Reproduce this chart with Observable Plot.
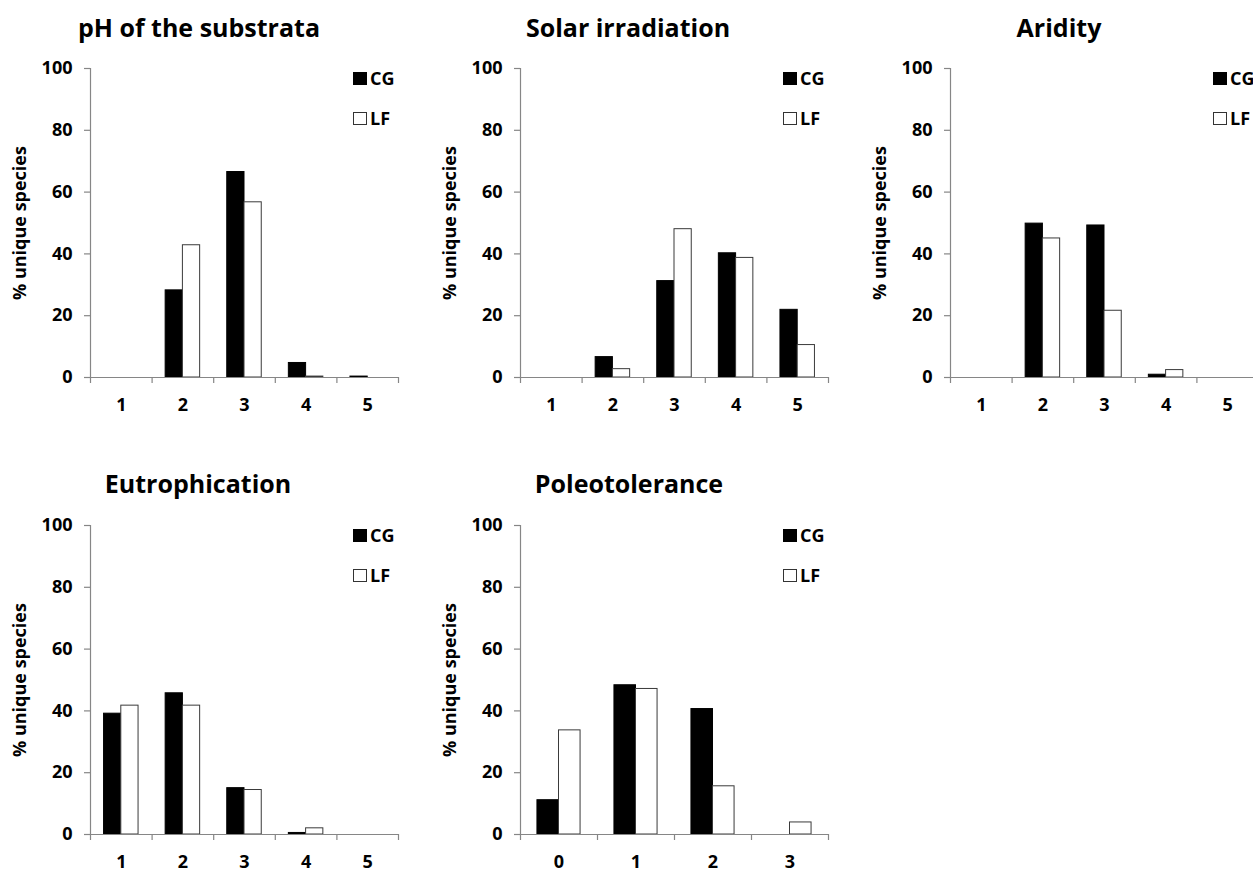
<!DOCTYPE html>
<html>
<head>
<meta charset="utf-8">
<script src="https://cdn.jsdelivr.net/npm/d3@7"></script>
<script src="https://cdn.jsdelivr.net/npm/@observablehq/plot@0.6"></script>
<style>
  html, body { margin: 0; padding: 0; background: #fff; overflow: hidden; }
  #root { position: relative; width: 1253px; height: 870px; overflow: hidden; background: #fff; font-family: "Open Sans", sans-serif; }
  .panel { position: absolute; width: 408px; }
  .panel svg { max-width: none !important; }
  .title { position: absolute; font-weight: bold; font-size: 25px; white-space: nowrap; transform: translate(-50%, -50%); color: #000; }
  .legend { position: absolute; font-weight: bold; font-size: 18px; color: #000; white-space: nowrap; }
  .legend .row { position: relative; height: 40px; display: flex; align-items: flex-start; }
  .legend .sw { width: 14px; height: 13px; box-sizing: border-box; border: 1px solid #333; margin-right: 3px; }
  .legend .lab { line-height: 13px; }
</style>
</head>
<body>
<div id="root"></div>
<script>
// ---- data ----
const seriesNames = ["CG", "LF"];
const yTicks = [0, 20, 40, 60, 80, 100];
const yLabel = "% unique species";

const phCats = [1, 2, 3, 4, 5];
const phCG = [0, 28.2, 66.5, 4.7, 0.3];
const phLF = [0, 42.8, 56.7, 0.3, 0];

const solarCats = [1, 2, 3, 4, 5];
const solarCG = [0, 6.6, 31.2, 40.2, 21.9];
const solarLF = [0, 2.7, 48.0, 38.7, 10.5];

const aridCats = [1, 2, 3, 4, 5];
const aridCG = [0, 49.8, 49.2, 0.9, 0];
const aridLF = [0, 45.0, 21.6, 2.4, 0];

const eutroCats = [1, 2, 3, 4, 5];
const eutroCG = [39.1, 45.7, 15.0, 0.5, 0];
const eutroLF = [41.7, 41.7, 14.4, 2.0, 0];

const poleoCats = [0, 1, 2, 3];
const poleoCG = [11.1, 48.3, 40.6, 0];
const poleoLF = [33.7, 47.1, 15.6, 3.9];

const panels = [
  {title: "pH of the substrata", cats: phCats, cg: phCG, lf: phLF, left: 0, top: 50, tx: 199, ty: 27},
  {title: "Solar irradiation", cats: solarCats, cg: solarCG, lf: solarLF, left: 430, top: 50, tx: 628, ty: 27},
  {title: "Aridity", cats: aridCats, cg: aridCG, lf: aridLF, left: 860, top: 50, tx: 1059, ty: 27},
  {title: "Eutrophication", cats: eutroCats, cg: eutroCG, lf: eutroLF, left: 0, top: 507, tx: 198, ty: 483},
  {title: "Poleotolerance", cats: poleoCats, cg: poleoCG, lf: poleoLF, left: 430, top: 507, tx: 629, ty: 483}
];

const root = document.getElementById("root");
const axisGray = "#868686";
const groupFrac = 0.56;
const M = {left: 90, right: 10, top: 18, bottom: 50};
const plotH = 309;

for (const p of panels) {
  const data = [];
  p.cats.forEach((c, i) => {
    data.push({cat: c, series: seriesNames[0], value: p.cg[i]});
    data.push({cat: c, series: seriesNames[1], value: p.lf[i]});
  });
  const lo = d3.min(p.cats) - 0.5, hi = d3.max(p.cats) + 0.5;
  const bounds = d3.range(lo, hi + 0.01, 1);
  const half = groupFrac / 2;

  const chart = Plot.plot({
    width: M.left + 308 + M.right,
    height: M.top + plotH + M.bottom,
    marginLeft: M.left, marginRight: M.right, marginTop: M.top, marginBottom: M.bottom,
    style: {fontFamily: "'Open Sans', sans-serif", fontSize: "18px", fontWeight: "bold", background: "transparent", overflow: "visible"},
    x: {domain: [lo, hi]},
    y: {domain: [0, 100]},
    marks: [
      Plot.rectY(data.filter(d => d.series === "CG" && d.value > 0), {
        x1: d => d.cat - half, x2: d => d.cat, y1: 0, y2: "value", fill: "#000", stroke: "#000", strokeWidth: 1
      }),
      Plot.rectY(data.filter(d => d.series === "LF" && d.value > 0), {
        x1: d => d.cat, x2: d => d.cat + half, y1: 0, y2: "value", fill: "#fff", stroke: "#3a3a3a", strokeWidth: 1
      }),
      Plot.ruleY([0], {stroke: axisGray, strokeWidth: 1.2}),
      Plot.ruleX([lo], {y1: 0, y2: 100, stroke: axisGray, strokeWidth: 1.2}),
      Plot.axisX({ticks: bounds, tickFormat: () => "", tickSize: 6, stroke: axisGray, strokeWidth: 1.2, label: null}),
      Plot.axisX({ticks: p.cats, tickFormat: d => String(d), tickSize: 0, tickPadding: 21, fill: "#000", label: null}),
      Plot.axisY({ticks: yTicks, tickSize: 6, tickPadding: 12, stroke: axisGray, strokeWidth: 1.2, fill: "#000", label: null}),
      Plot.text([yLabel], {text: d => d, frameAnchor: "left", textAnchor: "middle", lineAnchor: "middle", rotate: -90, dx: -70, fill: "#000", fontSize: 18, fontWeight: "bold"})
    ]
  });
  const wrap = document.createElement("div");
  wrap.className = "panel";
  wrap.style.left = p.left + "px";
  wrap.style.top = p.top + "px";
  wrap.appendChild(chart);
  root.appendChild(wrap);

  const t = document.createElement("div");
  t.className = "title";
  t.textContent = p.title;
  t.style.left = p.tx + "px";
  t.style.top = p.ty + "px";
  root.appendChild(t);

  const lg = document.createElement("div");
  lg.className = "legend";
  lg.style.left = (p.left + M.left + 263) + "px";
  lg.style.top = (p.top + M.top + 4) + "px";
  seriesNames.forEach((s, i) => {
    const row = document.createElement("div");
    row.className = "row";
    const sw = document.createElement("div");
    sw.className = "sw";
    sw.style.background = i === 0 ? "#000" : "#fff";
    sw.style.borderColor = i === 0 ? "#000" : "#333";
    const lab = document.createElement("span");
    lab.className = "lab";
    lab.textContent = s;
    row.appendChild(sw); row.appendChild(lab);
    lg.appendChild(row);
  });
  root.appendChild(lg);
}
</script>
</body>
</html>
